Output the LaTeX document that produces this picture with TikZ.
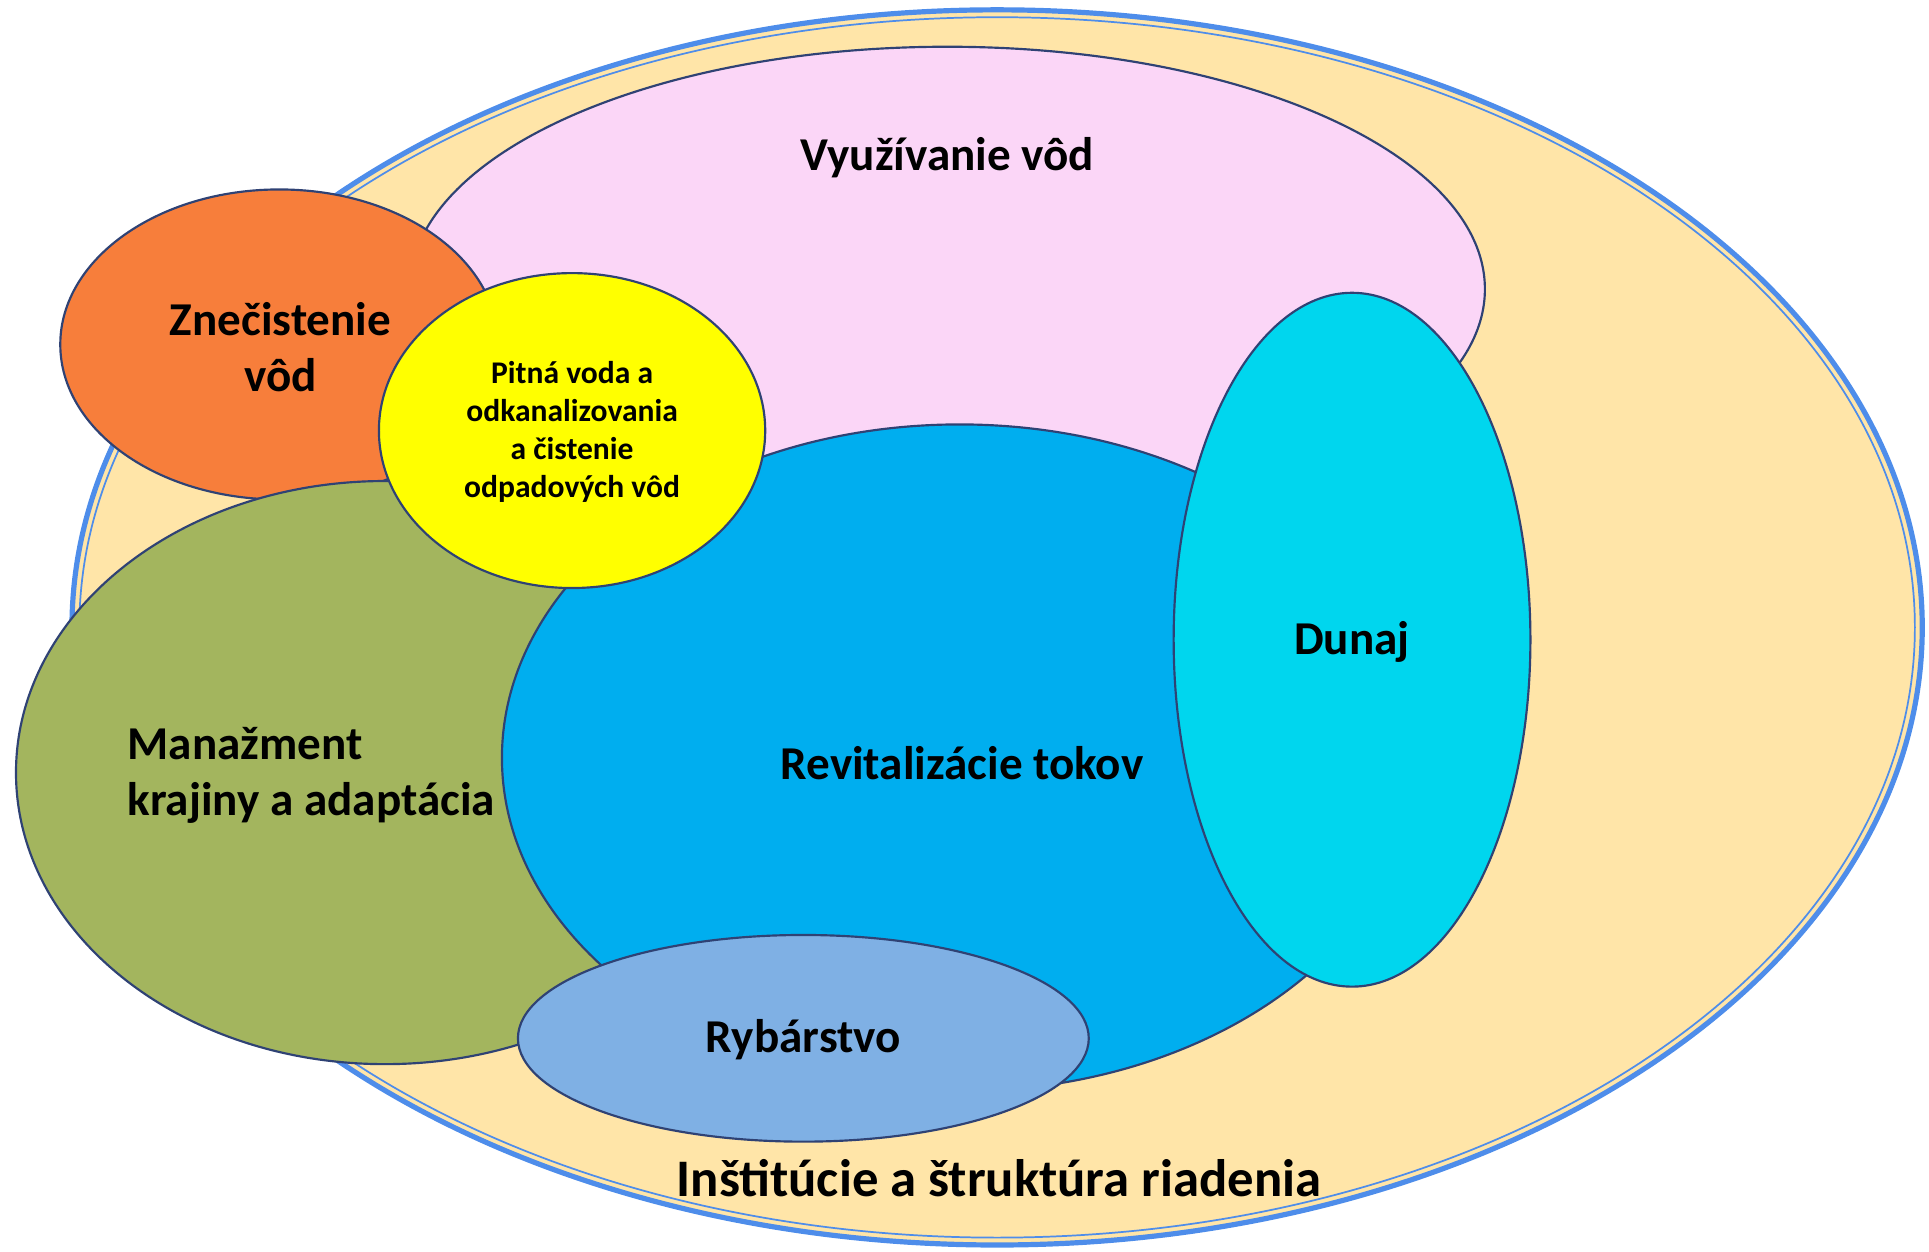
\documentclass[tikz,border=0pt]{standalone}
\usepackage{fontspec}
\setmainfont{Carlito}
\definecolor{peach}{HTML}{FFE5A8}
\definecolor{ringblue}{HTML}{4E8DEA}
\definecolor{rim}{HTML}{2F4274}
\definecolor{usepink}{HTML}{FBD6F7}
\definecolor{pollorange}{HTML}{F77E3B}
\definecolor{drinkyellow}{HTML}{FFFF00}
\definecolor{landolive}{HTML}{A3B55E}
\definecolor{riverblue}{HTML}{00AEEF}
\definecolor{danubecyan}{HTML}{00D6EE}
\definecolor{fishblue}{HTML}{7FB0E4}
\begin{document}
\begin{tikzpicture}[
    area/.style = {
      draw = rim,
      line width = 0.5pt
    },
    topic/.style = {
      font = \bfseries\fontsize{10.9}{13}\selectfont,
      align = center,
      inner sep = 0pt
    },
    small topic/.style = {
      font = \bfseries\fontsize{7.3}{8.8}\selectfont,
      align = center,
      inner sep = 0pt
    }
  ]
    \useasboundingbox (0, 0) rectangle (15.68, -10.17);

    \draw[draw = ringblue, fill = peach, line width = 1.2pt] (8.105, -5.10) ellipse (7.52cm and 5.02cm);
    \draw[draw = ringblue, line width = 0.4pt] (8.105, -5.10) ellipse (7.46cm and 4.96cm);

    \draw[area, fill = usepink] (7.70, -2.35) ellipse (4.37cm and 1.97cm);
    \draw[area, fill = pollorange] (2.27, -2.80) ellipse (1.78cm and 1.26cm);
    \draw[area, fill = landolive] (3.13, -6.28) ellipse (3.00cm and 2.37cm);
    \draw[area, fill = riverblue] (7.80, -6.16) ellipse (3.72cm and 2.71cm);
    \draw[area, fill = drinkyellow] (4.65, -3.50) ellipse (1.57cm and 1.28cm);
    \draw[area, fill = danubecyan] (10.99, -5.20) ellipse (1.45cm and 2.82cm);
    \draw[area, fill = fishblue] (6.53, -8.44) ellipse (2.32cm and 0.84cm);

    \node[topic] (use) at (7.70, -1.28) {Využívanie vôd};
    \node[topic] (pollution) at (2.28, -2.82) {Znečistenie\\vôd};
    \node[small topic] (drinking) at (4.65, -3.51) {Pitná voda a\\odkanalizovania\\a čistenie\\odpadových vôd};
    \node[topic, align = left, anchor = west] (landscape) at (1.03, -6.30) {Manažment\\krajiny a adaptácia};
    \node[topic] (rivers) at (7.82, -6.20) {Revitalizácie tokov};
    \node[topic] (danube) at (10.99, -5.22) {Dunaj};
    \node[topic] (fishery) at (6.53, -8.45) {Rybárstvo};
    \node[topic, font = \bfseries\fontsize{12.2}{14}\selectfont] (institutions) at (8.12, -9.58) {Inštitúcie a štruktúra riadenia};
  \end{tikzpicture}
\end{document}
